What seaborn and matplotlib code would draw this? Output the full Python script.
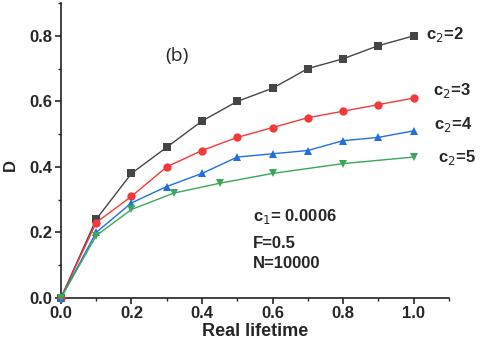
import matplotlib
matplotlib.use("Agg")
import matplotlib.pyplot as plt
import seaborn as sns
import pandas as pd
from matplotlib.ticker import MultipleLocator

sns.set_style("ticks")
plt.rcParams['font.family'] = ['Liberation Sans', 'DejaVu Sans']

x_main = [0.0, 0.1, 0.2, 0.3, 0.4, 0.5, 0.6, 0.7, 0.8, 0.9, 1.0]
d_c2_2 = [0.0, 0.24, 0.38, 0.46, 0.54, 0.60, 0.64, 0.70, 0.73, 0.77, 0.80]
d_c2_3 = [0.0, 0.23, 0.31, 0.40, 0.45, 0.49, 0.52, 0.55, 0.57, 0.59, 0.61]
d_c2_4 = [0.0, 0.20, 0.29, 0.34, 0.38, 0.43, 0.44, 0.45, 0.48, 0.49, 0.51]
x_c2_5 = [0.0, 0.1, 0.2, 0.32, 0.45, 0.6, 0.8, 1.0]
d_c2_5 = [0.0, 0.19, 0.27, 0.32, 0.35, 0.38, 0.41, 0.43]

series_labels = ["c$_2$=2", "c$_2$=3", "c$_2$=4", "c$_2$=5"]
colors = ["#454545", "#f23a3a", "#1f6fe0", "#3aa75a"]
markers = ["s", "o", "^", "v"]

fig = plt.figure(figsize=(4.8, 3.48), dpi=100)
ax = fig.add_axes([0.127, 0.144, 0.808, 0.847])

data = [(x_main, d_c2_2), (x_main, d_c2_3), (x_main, d_c2_4), (x_c2_5, d_c2_5)]
for (xs, ys), c, m in zip(data, colors, markers):
    df = pd.DataFrame({"x": xs, "y": ys})
    sns.lineplot(data=df, x="x", y="y", ax=ax, color=c, marker=m,
                 markersize=6, linewidth=1.0, markeredgewidth=0,
                 clip_on=False, zorder=3)

ax.set_xlim(0, 1.1)
ax.set_ylim(0, 0.9)
ax.xaxis.set_minor_locator(MultipleLocator(0.1))
ax.yaxis.set_minor_locator(MultipleLocator(0.1))
ax.set_xticks([0.0, 0.2, 0.4, 0.6, 0.8, 1.0])
ax.set_xticklabels(["0.0", "0.2", "0.4", "0.6", "0.8", "1.0"])
ax.set_yticks([0.0, 0.2, 0.4, 0.6, 0.8])
ax.set_yticklabels(["0.0", "0.2", "0.4", "0.6", "0.8"])
ax.tick_params(which="major", direction="out", length=4, width=1.2,
               labelsize=12, pad=2)
ax.tick_params(which="minor", direction="out", length=2.5, width=1.0)
for lab in ax.get_xticklabels() + ax.get_yticklabels():
    lab.set_fontweight("bold")
for s in ["left", "bottom"]:
    ax.spines[s].set_linewidth(1.2)
    ax.spines[s].set_color("#222222")
sns.despine(ax=ax)

ax.set_xlabel("Real lifetime", fontsize=13, fontweight="bold", labelpad=1)
ax.set_ylabel("D", fontsize=12, fontweight="bold")
ax.yaxis.set_label_coords(-0.11, 0.45)

ax.text(0.33, 0.74, "(b)", fontsize=14, ha="center", va="center",
        family=["Open Sans", "DejaVu Sans"])

label_pos = [(1.035, 0.805), (1.055, 0.633), (1.058, 0.53), (1.07, 0.43)]
for (lx, ly), lab in zip(label_pos, series_labels):
    ax.text(lx, ly, lab, fontsize=12, fontweight="bold", ha="left",
            va="center", clip_on=False)

ax.text(0.545, 0.25, "c$_1$= 0.0006", fontsize=12, fontweight="bold", va="center")
ax.text(0.545, 0.165, "F=0.5", fontsize=12, fontweight="bold", va="center")
ax.text(0.545, 0.104, "N=10000", fontsize=12, fontweight="bold", va="center")

fig.savefig("out.png", dpi=100)
